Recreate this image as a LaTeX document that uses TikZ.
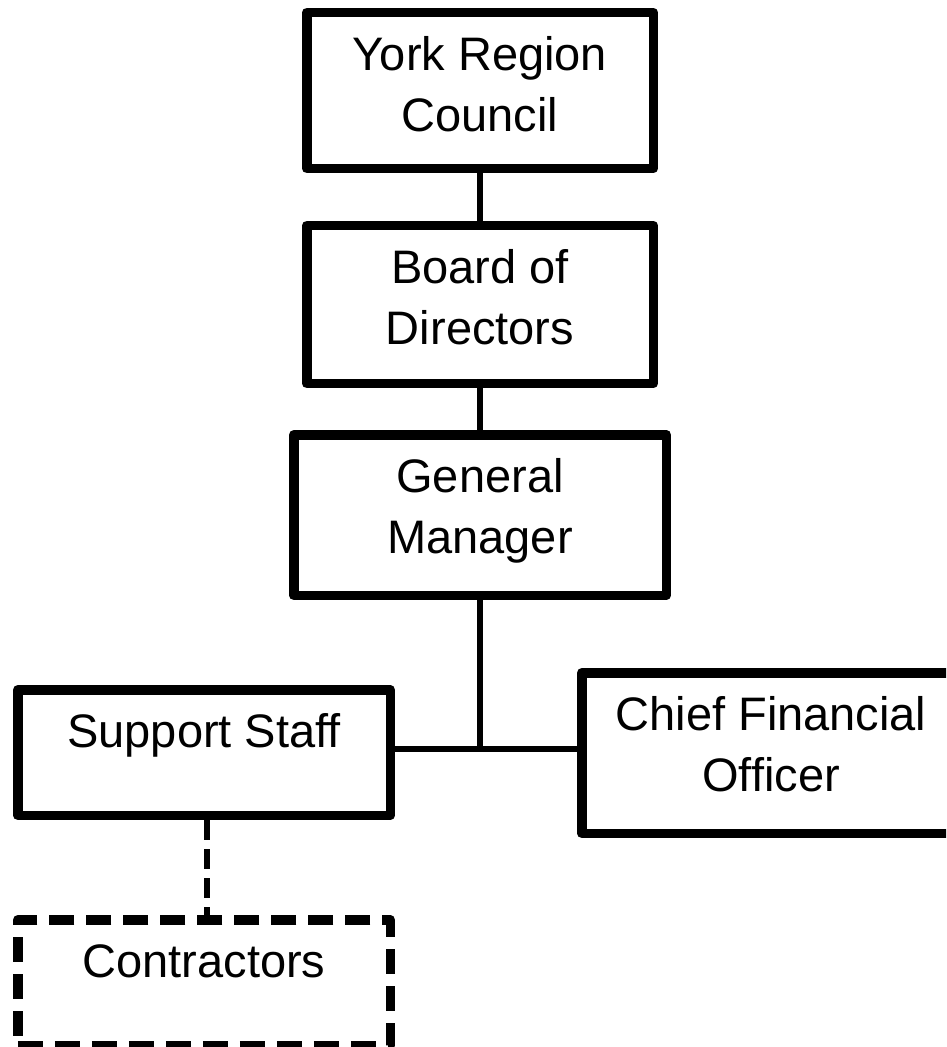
\documentclass[tikz,border=0pt]{standalone}
\usepackage{fontspec}
\setmainfont{Liberation Sans}
\begin{document}
% #1 inner width, #2 inner height, #3 text (top aligned, centred lines)
\newcommand\orgtext[3]{\parbox[c][#2][t]{#1}{\centering\fontsize{47pt}{61pt}\selectfont\rule{0pt}{58pt}#3}}
\begin{tikzpicture}[x=1pt,y=-1pt,
  orgbox/.style={draw=black,line width=9.5pt,line join=round,inner sep=0pt,fill=white},
  dashbox/.style={orgbox,dash pattern=on 25pt off 12pt},
  link/.style={draw=black,line width=6.5pt},
  dashlink/.style={link,dash pattern=on 20pt off 9pt}]
\fill[white] (0,0) rectangle (946,1047);
\useasboundingbox (0,0) rectangle (946,1047);
\clip (0,0) rectangle (946,1047);

% boxes: centre, then inner size = outer size minus border width
\node[orgbox] (york)  at (480,90.5)  {\orgtext{346.5pt}{156pt}{York Region\\Council}};
\node[orgbox] (board) at (480,304.5) {\orgtext{346.5pt}{158pt}{Board of\\Directors}};
\node[orgbox] (gm)    at (480,515)   {\orgtext{372.5pt}{160.5pt}{General\\Manager}};
\node[orgbox] (staff) at (204,752.5) {\orgtext{372.5pt}{125.5pt}{Support Staff}};
\node[orgbox] (cfo)   at (771,753)   {\orgtext{378.5pt}{160.5pt}{Chief Financial\\Officer}};
\node[dashbox] (contr) at (204,982.5) {\orgtext{372.5pt}{125.5pt}{Contractors}};

\coordinate (jn) at (480,749);

% reporting lines
\draw[link] (york.south) -- (board.north);
\draw[link] (board.south) -- (gm.north);
\draw[link] (gm.south) -- (jn);
\draw[link] (staff.east |- jn) -- (cfo.west |- jn);
\draw[dashlink] ([xshift=3pt]staff.south) -- ([xshift=3pt]contr.north);
\end{tikzpicture}
\end{document}
